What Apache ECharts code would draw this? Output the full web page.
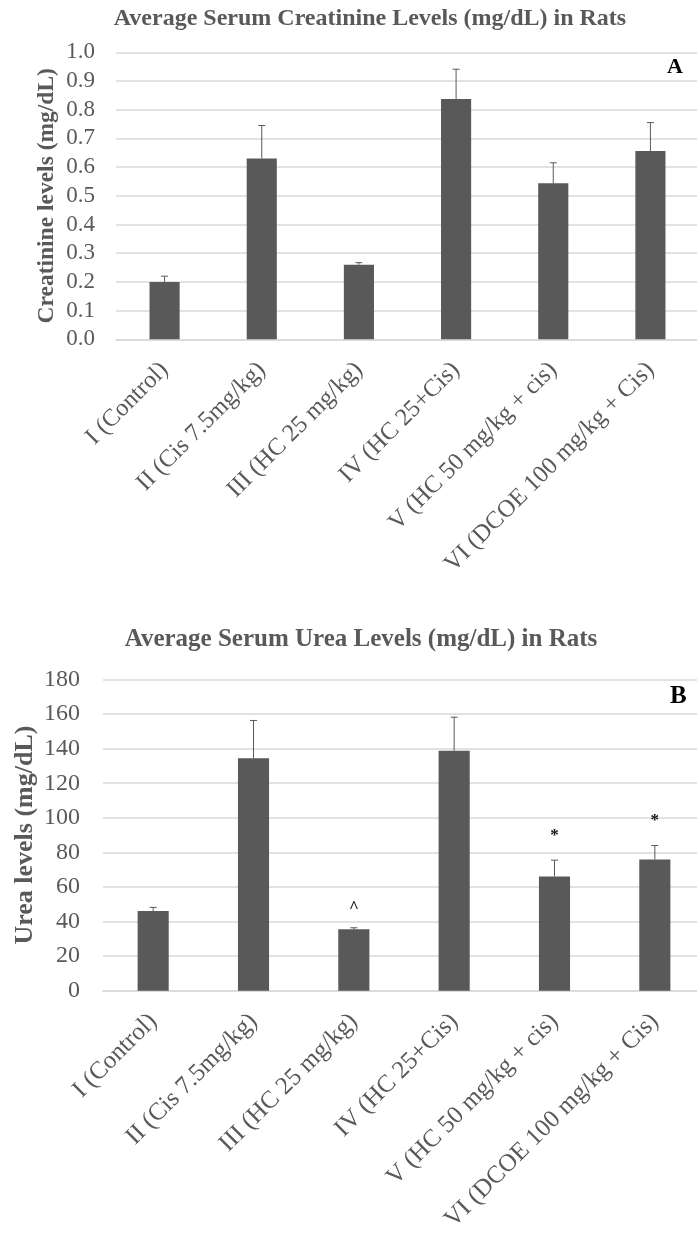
<!DOCTYPE html>
<html>
<head>
<meta charset="utf-8">
<script src="https://cdn.jsdelivr.net/npm/echarts@6/dist/echarts.min.js"></script>
<style>
html,body{margin:0;padding:0;background:#fff;}
#chart{width:697px;height:1234px;}
</style>
</head>
<body>
<div id="chart"></div>
<script>
const categories = ['I (Control)', 'II (Cis 7.5mg/kg)', 'III (HC 25 mg/kg)', 'IV (HC 25+Cis)', 'V (HC 50 mg/kg + cis)', 'VI (DCOE 100 mg/kg + Cis)'];
const creatinineMean = [0.20, 0.63, 0.26, 0.837, 0.544, 0.656];
const creatinineErr = [0.02, 0.115, 0.007, 0.104, 0.071, 0.099];
const ureaMean = [46.1, 134.5, 35.5, 138.8, 66.1, 75.9];
const ureaErr = [2.1, 21.8, 0.9, 19.4, 9.4, 8.1];
const ureaMarks = ['', '', '^', '', '*', '*'];
const creatinineTicks = { min: 0, max: 1.0, interval: 0.1 };
const ureaTicks = { min: 0, max: 180, interval: 20 };

const GRAY = '#595959';
const GRID = '#d9d9d9';
const SERIF = '"Liberation Serif", "DejaVu Serif", serif';

function errRenderer(marks) {
  return function (params, api) {
    const i = api.value(0), m = api.value(1), e = api.value(2);
    const base = api.coord([i, m]);
    const top = api.coord([i, m + e]);
    const children = [
      { type: 'line', shape: { x1: base[0], y1: base[1], x2: top[0], y2: top[1] }, style: { stroke: GRAY, lineWidth: 1 } },
      { type: 'line', shape: { x1: top[0] - 3.5, y1: top[1], x2: top[0] + 3.5, y2: top[1] }, style: { stroke: GRAY, lineWidth: 1 } }
    ];
    const mk = marks ? marks[params.dataIndex] : '';
    if (mk) {
      const off = mk === '^' ? 20 : 25;
      children.push({ type: 'text', style: { text: mk, x: top[0], y: top[1] - off, align: 'center', verticalAlign: 'middle', font: 'bold 17px ' + SERIF, fill: '#111' } });
    }
    return { type: 'group', children: children };
  };
}

const chart = echarts.init(document.getElementById('chart'), null, { renderer: 'canvas' });
const axisLabelX = (margin, size) => ({ rotate: 45, interval: 0, color: GRAY, fontFamily: SERIF, fontSize: size, margin: margin });

chart.setOption({
  animation: false,
  backgroundColor: '#fff',
  title: [
    { text: 'Average Serum Creatinine Levels (mg/dL) in Rats', left: 365, textAlign: 'center', top: 2,
      textStyle: { fontFamily: SERIF, fontWeight: 'bold', fontSize: 24, color: GRAY } },
    { text: 'Average Serum Urea Levels (mg/dL) in Rats', left: 356, textAlign: 'center', top: 622,
      textStyle: { fontFamily: SERIF, fontWeight: 'bold', fontSize: 25, color: GRAY } }
  ],
  graphic: [
    { type: 'text', left: 667, top: 56, style: { text: 'A', font: 'bold 22px ' + SERIF, fill: '#000' } },
    { type: 'text', left: 670, top: 684, style: { text: 'B', font: 'bold 25px ' + SERIF, fill: '#000' } }
  ],
  grid: [
    { left: 116, top: 52.3, width: 583, height: 287, outerBoundsMode: 'none', containLabel: false },
    { left: 103, top: 679.5, width: 602, height: 311.2, outerBoundsMode: 'none', containLabel: false }
  ],
  xAxis: [
    { type: 'category', gridIndex: 0, data: categories, axisTick: { show: false },
      axisLine: { lineStyle: { color: GRID, width: 1.5 } }, axisLabel: axisLabelX(27, 24.5) },
    { type: 'category', gridIndex: 1, data: categories, axisTick: { show: false },
      axisLine: { lineStyle: { color: GRID, width: 1.5 } }, axisLabel: axisLabelX(27, 25) }
  ],
  yAxis: [
    { type: 'value', gridIndex: 0, min: creatinineTicks.min, max: creatinineTicks.max, interval: creatinineTicks.interval,
      axisLine: { show: false }, axisTick: { show: false },
      splitLine: { lineStyle: { color: GRID, width: 1.5 } },
      axisLabel: { color: GRAY, fontFamily: SERIF, fontSize: 23, margin: 21, formatter: v => v.toFixed(1) },
      name: 'Creatinine levels (mg/dL)', nameLocation: 'middle', nameGap: 57, nameMoveOverlap: false,
      nameTextStyle: { color: GRAY, fontFamily: SERIF, fontWeight: 'bold', fontSize: 23.5 } },
    { type: 'value', gridIndex: 1, min: ureaTicks.min, max: ureaTicks.max, interval: ureaTicks.interval,
      axisLine: { show: false }, axisTick: { show: false },
      splitLine: { lineStyle: { color: GRID, width: 1.5 } },
      axisLabel: { color: GRAY, fontFamily: SERIF, fontSize: 24, margin: 23 },
      name: 'Urea levels (mg/dL)', nameLocation: 'middle', nameGap: 65, nameMoveOverlap: false,
      nameTextStyle: { color: GRAY, fontFamily: SERIF, fontWeight: 'bold', fontSize: 26 } }
  ],
  series: [
    { type: 'bar', xAxisIndex: 0, yAxisIndex: 0, data: creatinineMean, barWidth: '31%',
      itemStyle: { color: GRAY } },
    { type: 'custom', xAxisIndex: 0, yAxisIndex: 0, renderItem: errRenderer(null),
      data: categories.map((c, i) => [i, creatinineMean[i], creatinineErr[i]]), z: 5 },
    { type: 'bar', xAxisIndex: 1, yAxisIndex: 1, data: ureaMean, barWidth: '31%',
      itemStyle: { color: GRAY } },
    { type: 'custom', xAxisIndex: 1, yAxisIndex: 1, renderItem: errRenderer(ureaMarks),
      data: categories.map((c, i) => [i, ureaMean[i], ureaErr[i]]), z: 5 }
  ]
});
</script>
</body>
</html>
